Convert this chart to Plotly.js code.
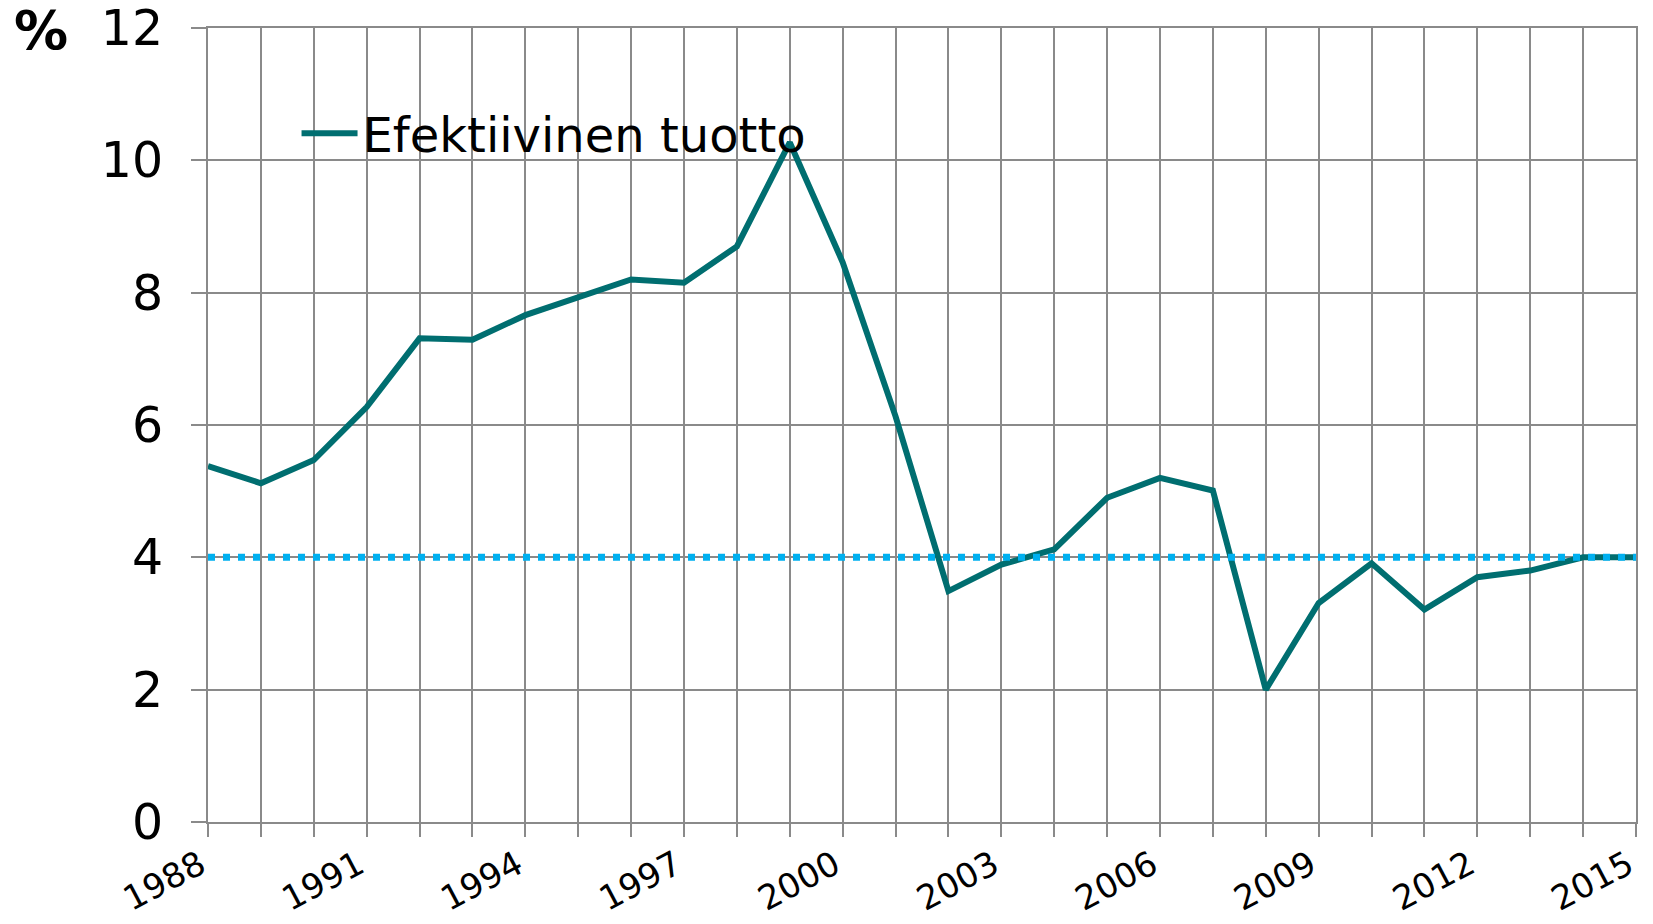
<!DOCTYPE html>
<html>
<head>
<meta charset="utf-8">
<script src="https://cdn.plot.ly/plotly-3.0.1.min.js"></script>
<style>
  html, body { margin: 0; padding: 0; background: #ffffff; }
  #chart { width: 1653px; height: 924px; }
</style>
</head>
<body>
<div id="chart"></div>
<script>
// Data
const years = [1988, 1989, 1990, 1991, 1992, 1993, 1994, 1995, 1996, 1997,
               1998, 1999, 2000, 2001, 2002, 2003, 2004, 2005, 2006, 2007,
               2008, 2009, 2010, 2011, 2012, 2013, 2014, 2015];
const effectiveYield = [5.38, 5.12, 5.47, 6.27, 7.31, 7.29, 7.66, 7.93, 8.20, 8.15,
                        8.70, 10.27, 8.46, 6.13, 3.49, 3.89, 4.12, 4.90, 5.20, 5.01,
                        2.00, 3.31, 3.91, 3.21, 3.70, 3.80, 4.00, 4.00];
const refYears = [1988, 2015];
const refLevel = [4, 4];
const seriesName = 'Efektiivinen tuotto';
const yTickVals = [0, 2, 4, 6, 8, 10, 12];
const xTickLabelYears = [1988, 1991, 1994, 1997, 2000, 2003, 2006, 2009, 2012, 2015];
const unitLabel = '%';

const xTickText = years.map(y => xTickLabelYears.includes(y) ? String(y) : '');

const FONT = 'DejaVu Sans, Verdana, sans-serif';
const GRID = '#8a8a8a';

const traces = [
  {
    x: years, y: effectiveYield, name: seriesName, type: 'scatter', mode: 'lines',
    line: { color: '#006e70', width: 6 }
  },
  {
    x: refYears, y: refLevel, type: 'scatter', mode: 'lines', showlegend: false,
    hoverinfo: 'skip',
    line: { color: '#00b0f0', width: 7, dash: '7px,8px' }
  }
];

const layout = {
  width: 1653, height: 924,
  margin: { l: 208, r: 17, t: 28, b: 102, pad: 0 },
  paper_bgcolor: '#ffffff', plot_bgcolor: '#ffffff',
  font: { family: FONT, color: '#000000' },
  showlegend: true,
  legend: {
    x: 0.062, y: 0.915, xanchor: 'left', yanchor: 'top',
    bgcolor: 'rgba(0,0,0,0)', borderwidth: 0,
    font: { family: FONT, size: 48, color: '#000000' },
    itemwidth: 56
  },
  xaxis: {
    range: [1988, 2015],
    tickmode: 'array', tickvals: years, ticktext: xTickText,
    tickangle: -28,
    ticks: 'outside', ticklen: 13, tickwidth: 2, tickcolor: GRID,
    showgrid: true, gridcolor: GRID, gridwidth: 2,
    zeroline: false, showline: true, mirror: true, linecolor: GRID, linewidth: 2,
    tickfont: { family: FONT, size: 34, color: '#000000' },
    ticklabelstandoff: -5,
    ticklabelshift: -8
  },
  yaxis: {
    range: [0, 12],
    tickmode: 'array', tickvals: yTickVals,
    ticks: 'outside', ticklen: 15, tickwidth: 2, tickcolor: GRID,
    showgrid: true, gridcolor: GRID, gridwidth: 2,
    zeroline: false, showline: true, mirror: true, linecolor: GRID, linewidth: 2,
    tickfont: { family: FONT, size: 49, color: '#000000' },
    ticklabelstandoff: 18
  },
  annotations: [
    {
      text: '<b>' + unitLabel + '</b>', xref: 'paper', yref: 'paper',
      x: -0.117, y: 0.997, xanchor: 'center', yanchor: 'middle',
      showarrow: false,
      font: { family: FONT, size: 54, color: '#000000' }
    }
  ]
};

Plotly.newPlot('chart', traces, layout, { displayModeBar: false, staticPlot: true });
</script>
</body>
</html>
